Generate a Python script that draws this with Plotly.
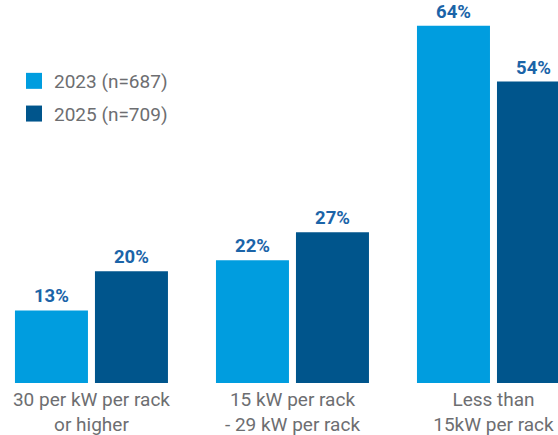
import plotly.graph_objects as go

categories = ["30 per kW per rack<br>or higher",
              "15 kW per rack<br>- 29 kW per rack",
              "Less than<br>15kW per rack"]
series_names = ["2023 (n=687)", "2025 (n=709)"]
values_2023 = [13, 22, 64]
values_2025 = [20, 27, 54]

colors = ["#009ddf", "#00558c"]
label_color = "#1b64a8"
text_color = "#6d6e71"
font_family = "Roboto, 'DejaVu Sans', sans-serif"

fig = go.Figure()
for name, vals, col in zip(series_names, [values_2023, values_2025], colors):
    fig.add_trace(go.Bar(
        x=categories, y=vals, name=name, marker_color=col,
        marker_line_width=0,
        text=[f"<b>{v}%</b>" for v in vals], textposition="outside",
        textfont=dict(family=font_family, size=18.5, color=label_color),
        cliponaxis=False, showlegend=False, legendgroup=name,
    ))
for name, col in zip(series_names, colors):
    fig.add_trace(go.Scatter(
        x=[None], y=[None], mode="markers", name=name, legendgroup=name,
        marker=dict(symbol="square", size=18, color=col),
    ))

fig.update_layout(
    width=558, height=435,
    margin=dict(l=0, r=0, t=0, b=52),
    paper_bgcolor="white", plot_bgcolor="white",
    barmode="group", bargap=0.204, bargroupgap=0.0875,
    font=dict(family=font_family, size=19, color=text_color),
    legend=dict(x=14 / 558, y=1 - 62 / 383, xanchor="left", yanchor="top",
                font=dict(size=19, color=text_color),
                itemsizing="trace", tracegroupgap=5,
                bgcolor="rgba(0,0,0,0)"),
    xaxis=dict(range=[-0.455, 2.321], showline=False, showgrid=False,
               ticks="", ticklabelstandoff=3,
               tickfont=dict(size=19, color=text_color)),
    yaxis=dict(range=[0, 68.6], visible=False),
)
fig.write_html("out.html", config={"displayModeBar": False},
               post_script="document.body.style.margin='0';document.body.style.padding='0';")
